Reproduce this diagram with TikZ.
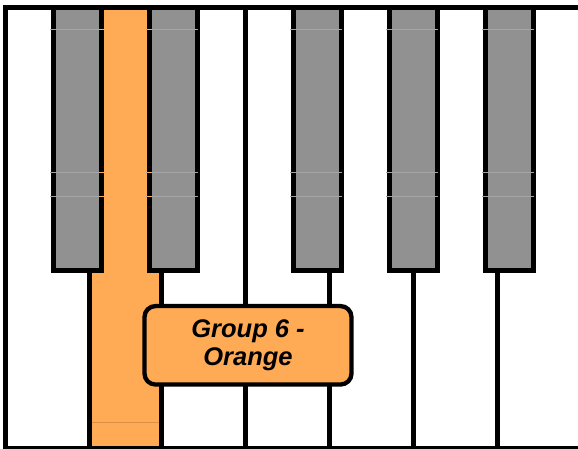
\documentclass[tikz,border=0pt]{standalone}
\usepackage{fontspec}
\newfontfamily\labfont{Liberation Sans}
\definecolor{keygray}{RGB}{145,145,145}
\definecolor{keyorange}{RGB}{255,170,85}
\definecolor{seamgray}{RGB}{165,165,165}
\begin{document}
\begin{tikzpicture}[x=1pt,y=-1pt,
  outline/.style={line width=5pt,draw=black},
  blackkey/.style={outline,fill=keygray},
  seam/.style={line width=0.8pt},
  groupbox/.style={draw=black,line width=4.3pt,fill=keyorange,rounded corners=11pt,
    minimum width=207pt,minimum height=78.5pt,align=center,inner sep=0pt,
    font=\labfont\bfseries\itshape\fontsize{25.5}{29}\selectfont}]
\useasboundingbox (0,0) rectangle (578,448);
\clip (0,0) rectangle (578,448);
% white background and orange D key
\fill[white] (0,0) rectangle (578,448);
\fill[keyorange] (89.5,7.5) rectangle (161.5,448);
% seam on orange key
\draw[seam,keyorange!85!black] (87,422) -- (164,422);
% white key boundaries
\foreach \x in {89.5,161.5,245.5,329.5,413.5,497.5}
  \draw[outline] (\x,7.5) -- (\x,448);
% frame
\draw[outline] (600,7.5) -- (5.5,7.5) -- (5.5,448) -- (600,448);
% black keys
\foreach \x in {53.5,149.5,293.5,389.5,485.5}
  \draw[blackkey] (\x,7.5) rectangle ++(48,263);
% faint seams across black keys
\foreach \y in {29.3,172,196}{
  \foreach \x in {50,146,290,386,482}
    \draw[seam,seamgray] (\x,\y) -- ++(52,0);
  \draw[seam,keyorange] (99,\y) -- (104,\y);
  \draw[seam,keyorange] (147,\y) -- (152,\y);
}
% label
\node[groupbox] (label) at (248,345.3) {Group 6 -\\[-0.5pt]Orange};
\end{tikzpicture}
\end{document}
